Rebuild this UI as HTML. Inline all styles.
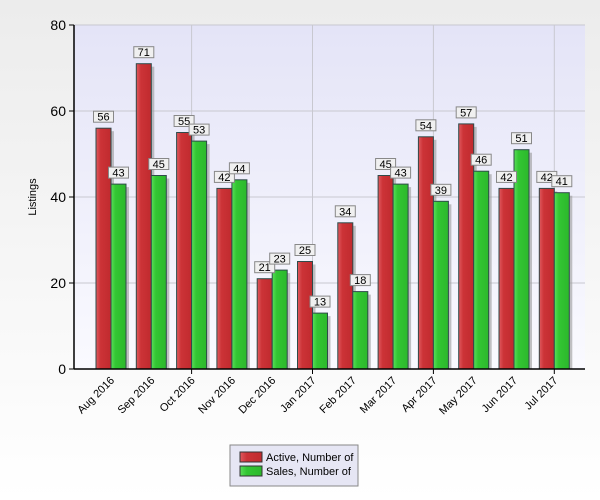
<!DOCTYPE html>
<html><head><meta charset="utf-8"><style>
html,body{margin:0;padding:0;width:600px;height:500px;overflow:hidden}
body{background:linear-gradient(#ececec,#ffffff);font-family:"Liberation Sans",sans-serif}
svg{display:block}
</style></head><body>
<svg width="600" height="500" id="svg">
<defs>
<linearGradient id="pbg" x1="0" y1="0" x2="0" y2="1"><stop offset="0" stop-color="#e4e4f7"/><stop offset="1" stop-color="#fafaff"/></linearGradient>
<linearGradient id="gr" x1="0" x2="1"><stop offset="0" stop-color="#e05a5f"/><stop offset="0.3" stop-color="#cc3337"/><stop offset="1" stop-color="#c02a2e"/></linearGradient>
<linearGradient id="gg" x1="0" x2="1"><stop offset="0" stop-color="#5ade5a"/><stop offset="0.3" stop-color="#33c633"/><stop offset="1" stop-color="#2cb82c"/></linearGradient>
</defs>
<rect x="74" y="25" width="511" height="344" fill="url(#pbg)"/>
<g id="grid"></g><g id="bars"></g><g id="labels"></g><g id="axes"></g>
<text transform="translate(36,197) rotate(-90)" font-size="11" text-anchor="middle">Listings</text>
<g>
<rect x="230" y="445" width="128" height="41" fill="#e6e6f4" stroke="#888"/>
<rect x="240" y="452" width="22" height="10" fill="url(#gr)" stroke="#333"/>
<text x="266" y="461" font-size="11">Active, Number of</text>
<rect x="240" y="466" width="22" height="10" fill="url(#gg)" stroke="#333"/>
<text x="266" y="475" font-size="11">Sales, Number of</text>
</g>
</svg>
<script>
const categories=["Aug 2016","Sep 2016","Oct 2016","Nov 2016","Dec 2016","Jan 2017","Feb 2017","Mar 2017","Apr 2017","May 2017","Jun 2017","Jul 2017"];
const active=[56,71,55,42,21,25,34,45,54,57,42,42];
const sales=[43,45,53,44,23,13,18,43,39,46,51,41];
const yTicks=[0,20,40,60,80];
const NS="http://www.w3.org/2000/svg";
const x0=74,x1=585,yTop=25,yBot=369,yMax=80;
const y=v=>yBot-(v/yMax)*(yBot-yTop);
const gw=40.3,firstC=111;
const xc=i=>firstC+i*gw;
function mk(t,a,p){const e=document.createElementNS(NS,t);for(const k in a)e.setAttribute(k,a[k]);(p||document.getElementById('svg')).appendChild(e);return e;}
const G=document.getElementById('grid'),B=document.getElementById('bars'),L=document.getElementById('labels'),A=document.getElementById('axes');
yTicks.forEach(t=>{
 if(t>0){const l=mk('line',{x1:x0,x2:x1,y1:y(t),y2:y(t),stroke:'#c8c8d0'},G);}
 mk('line',{x1:x0-5,x2:x0,y1:y(t),y2:y(t),stroke:'#000'},A);
 const tx=mk('text',{x:x0-8,y:y(t)+5,'font-size':14,'text-anchor':'end'},A);tx.textContent=t;
 
});
for(let i=2;i<categories.length;i+=3){const l=mk('line',{x1:xc(i),x2:xc(i),y1:yTop,y2:yBot,stroke:'#c8c8d0'},G);
 mk('line',{x1:xc(i),x2:xc(i),y1:yBot,y2:yBot+5,stroke:'#000'},A);}
const bw=15;
function label(cx,v,dy){const yy=y(v)-dy;const w=v>9?20:14;
 const r=mk('rect',{x:cx-w/2,y:yy-13,width:w,height:11,fill:'#f0f0f0',stroke:'#888'},L);
 
 const t=mk('text',{x:cx,y:yy-3.5,'font-size':11,'text-anchor':'middle'},L);t.textContent=v;
 }
categories.forEach((c,i)=>{
 const cx=xc(i);
 [[active[i],cx-bw,'url(#gr)','bar-active'],[sales[i],cx,'url(#gg)','bar-sales']].forEach(([v,bx,f,n])=>{
  mk('rect',{x:bx+3,y:y(v)+3,width:bw,height:yBot-y(v)-3,fill:'#999',opacity:0.6},B);
  const r=mk('rect',{x:bx,y:y(v),width:bw,height:yBot-y(v),fill:f,stroke:'#2f4a4a','stroke-width':1},B);
  
 });
 label(cx-bw/2,active[i],4);
 label(cx+bw/2,sales[i],4);
 const t=mk('text',{transform:`translate(${cx+4},${yBot+12}) rotate(-45)`,'font-size':11,'text-anchor':'end'},A);t.textContent=c;
 
});
mk('line',{x1:x0,x2:x0,y1:yTop,y2:yBot,stroke:'#000','stroke-width':1.5},A);
mk('line',{x1:x0,x2:x1,y1:yBot,y2:yBot,stroke:'#000','stroke-width':1.5},A);
</script>
</body></html>
